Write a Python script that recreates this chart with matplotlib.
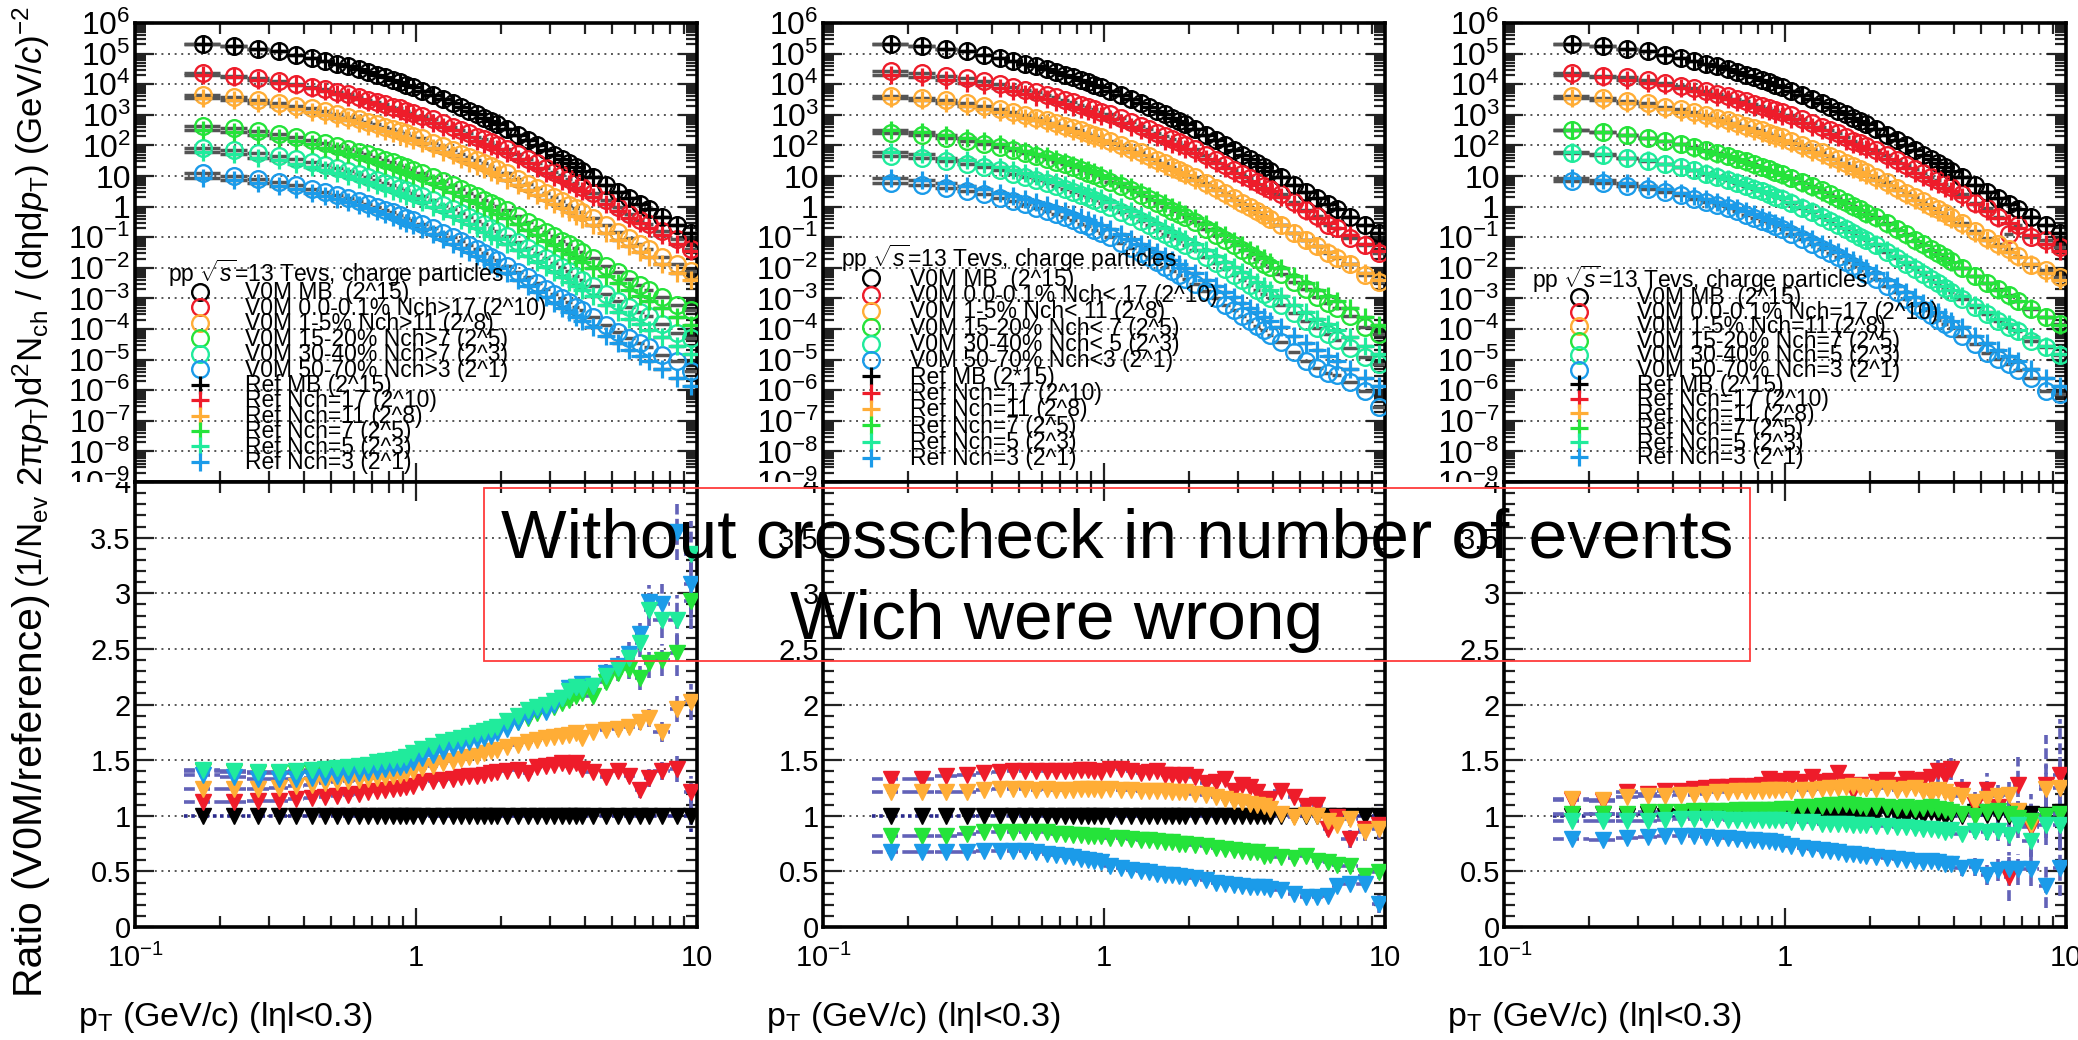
import numpy as np
import matplotlib.pyplot as plt
from matplotlib.ticker import FixedLocator, FixedFormatter, NullFormatter, LogLocator
from matplotlib.lines import Line2D
from matplotlib.patches import Rectangle
from matplotlib.transforms import Bbox, TransformedBbox

plt.rcParams['font.family'] = ['Liberation Sans', 'DejaVu Sans']
plt.rcParams['mathtext.fontset'] = 'custom'
plt.rcParams['mathtext.rm'] = 'Liberation Sans'
plt.rcParams['mathtext.it'] = 'Liberation Sans:italic'
plt.rcParams['mathtext.bf'] = 'Liberation Sans:bold'

# pT binning (GeV/c)
pt_edges = [0.15, 0.2, 0.25, 0.3, 0.35, 0.4, 0.45, 0.5, 0.55, 0.6, 0.65, 0.7, 0.75, 0.8,
            0.85, 0.9, 0.95, 1.0, 1.1, 1.2, 1.3, 1.4, 1.5, 1.6, 1.7, 1.8, 1.9, 2.0, 2.2,
            2.4, 2.6, 2.8, 3.0, 3.2, 3.4, 3.6, 3.8, 4.0, 4.5, 5.0, 5.5, 6.0, 6.5, 7.0,
            8.0, 9.0, 10.0]

# reference spectra, log10 of the scaled yield (same in all three panels)
ref_mb = [5.33, 5.26, 5.16, 5.07, 4.97, 4.87, 4.77, 4.67, 4.58, 4.49,
          4.40, 4.31, 4.22, 4.14, 4.06, 3.98, 3.90, 3.79, 3.65, 3.51,
          3.38, 3.25, 3.13, 3.01, 2.90, 2.79, 2.69, 2.54, 2.35, 2.17,
          2.00, 1.84, 1.69, 1.55, 1.42, 1.29, 1.17, 0.97, 0.71, 0.48,
          0.27, 0.08, -0.09, -0.33, -0.61, -0.86]
ref_n17 = [4.30, 4.23, 4.14, 4.05, 3.96, 3.86, 3.77, 3.67, 3.59, 3.51,
           3.42, 3.34, 3.26, 3.18, 3.11, 3.04, 2.96, 2.86, 2.74, 2.61,
           2.49, 2.38, 2.27, 2.16, 2.06, 1.97, 1.88, 1.74, 1.57, 1.41,
           1.25, 1.11, 0.97, 0.85, 0.73, 0.61, 0.50, 0.31, 0.07, -0.15,
           -0.36, -0.54, -0.71, -0.94, -1.21, -1.46]
ref_n11 = [3.55, 3.48, 3.39, 3.30, 3.20, 3.10, 3.00, 2.91, 2.82, 2.74,
           2.65, 2.56, 2.48, 2.40, 2.32, 2.25, 2.17, 2.07, 1.93, 1.80,
           1.68, 1.55, 1.44, 1.33, 1.22, 1.12, 1.03, 0.88, 0.70, 0.53,
           0.37, 0.22, 0.08, -0.05, -0.18, -0.30, -0.42, -0.61, -0.86, -1.09,
           -1.29, -1.48, -1.65, -1.88, -2.16, -2.41]
ref_n7 = [2.50, 2.43, 2.33, 2.23, 2.13, 2.03, 1.93, 1.83, 1.73, 1.64,
          1.55, 1.46, 1.36, 1.28, 1.20, 1.12, 1.03, 0.92, 0.77, 0.63,
          0.49, 0.36, 0.23, 0.11, -0.01, -0.12, -0.23, -0.38, -0.58, -0.77,
          -0.94, -1.11, -1.26, -1.41, -1.54, -1.68, -1.80, -2.01, -2.27, -2.51,
          -2.72, -2.91, -3.08, -3.33, -3.61, -3.86]
ref_n5 = [1.78, 1.71, 1.60, 1.51, 1.40, 1.30, 1.20, 1.09, 0.99, 0.90,
          0.80, 0.70, 0.61, 0.52, 0.44, 0.35, 0.27, 0.14, -0.01, -0.16,
          -0.30, -0.44, -0.58, -0.71, -0.83, -0.95, -1.06, -1.23, -1.43, -1.63,
          -1.81, -1.99, -2.15, -2.30, -2.45, -2.59, -2.72, -2.93, -3.20, -3.44,
          -3.66, -3.85, -4.02, -4.27, -4.56, -4.81]
ref_n3 = [0.95, 0.87, 0.77, 0.67, 0.57, 0.46, 0.35, 0.24, 0.14, 0.04,
          -0.05, -0.16, -0.25, -0.35, -0.43, -0.52, -0.61, -0.74, -0.90, -1.06,
          -1.21, -1.35, -1.49, -1.63, -1.76, -1.89, -2.00, -2.18, -2.39, -2.59,
          -2.79, -2.97, -3.14, -3.30, -3.45, -3.60, -3.73, -3.95, -4.23, -4.47,
          -4.69, -4.88, -5.06, -5.32, -5.61, -5.86]

# V0M spectra, log10, left panel
v0m_l_c1 = [4.35, 4.28, 4.19, 4.10, 4.02, 3.92, 3.84, 3.74, 3.67, 3.59,
            3.50, 3.43, 3.35, 3.27, 3.21, 3.14, 3.06, 2.97, 2.86, 2.73,
            2.61, 2.51, 2.40, 2.29, 2.20, 2.11, 2.02, 1.89, 1.72, 1.55,
            1.41, 1.27, 1.13, 1.02, 0.89, 0.78, 0.65, 0.45, 0.20, 0.00,
            -0.23, -0.45, -0.58, -0.79, -1.06, -1.38]
v0m_l_c2 = [3.64, 3.57, 3.48, 3.40, 3.30, 3.21, 3.11, 3.02, 2.94, 2.86,
            2.77, 2.69, 2.61, 2.53, 2.46, 2.39, 2.32, 2.23, 2.09, 1.97,
            1.85, 1.73, 1.62, 1.52, 1.41, 1.32, 1.23, 1.09, 0.91, 0.75,
            0.60, 0.45, 0.31, 0.19, 0.06, -0.06, -0.19, -0.37, -0.61, -0.84,
            -1.03, -1.22, -1.38, -1.64, -1.87, -2.10]
v0m_l_c3 = [2.65, 2.57, 2.47, 2.37, 2.27, 2.17, 2.08, 1.98, 1.88, 1.80,
            1.71, 1.62, 1.52, 1.45, 1.37, 1.30, 1.21, 1.11, 0.97, 0.84,
            0.70, 0.58, 0.46, 0.34, 0.23, 0.12, 0.02, -0.12, -0.32, -0.50,
            -0.66, -0.82, -0.96, -1.11, -1.23, -1.36, -1.48, -1.69, -1.93, -2.15,
            -2.35, -2.56, -2.71, -2.95, -3.22, -3.39]
v0m_l_c4 = [1.93, 1.86, 1.74, 1.65, 1.55, 1.45, 1.35, 1.25, 1.15, 1.06,
            0.96, 0.87, 0.78, 0.70, 0.62, 0.53, 0.46, 0.34, 0.20, 0.06,
            -0.07, -0.21, -0.34, -0.47, -0.58, -0.70, -0.80, -0.96, -1.15, -1.34,
            -1.51, -1.69, -1.84, -1.99, -2.12, -2.26, -2.39, -2.59, -2.85, -3.07,
            -3.28, -3.44, -3.57, -3.83, -4.12, -4.28]
v0m_l_c5 = [1.09, 1.00, 0.89, 0.79, 0.69, 0.59, 0.48, 0.37, 0.28, 0.18,
            0.09, -0.01, -0.10, -0.19, -0.27, -0.36, -0.44, -0.56, -0.71, -0.86,
            -1.00, -1.14, -1.27, -1.40, -1.53, -1.65, -1.76, -1.93, -2.13, -2.31,
            -2.50, -2.68, -2.84, -2.99, -3.12, -3.27, -3.39, -3.61, -3.87, -4.10,
            -4.30, -4.46, -4.59, -4.86, -5.06, -5.37]

# V0M spectra, log10, middle panel
v0m_m_c1 = [4.42, 4.35, 4.27, 4.19, 4.10, 4.00, 3.92, 3.82, 3.74, 3.66,
            3.57, 3.49, 3.41, 3.33, 3.26, 3.19, 3.10, 3.01, 2.89, 2.76,
            2.63, 2.52, 2.42, 2.30, 2.20, 2.10, 2.02, 1.87, 1.68, 1.52,
            1.37, 1.20, 1.08, 0.95, 0.81, 0.67, 0.56, 0.40, 0.14, -0.11,
            -0.32, -0.60, -0.71, -1.04, -1.27, -1.50]
v0m_m_c2 = [3.63, 3.56, 3.47, 3.38, 3.29, 3.19, 3.09, 3.00, 2.91, 2.83,
            2.74, 2.65, 2.57, 2.49, 2.41, 2.34, 2.26, 2.16, 2.02, 1.89,
            1.77, 1.64, 1.53, 1.42, 1.30, 1.20, 1.11, 0.96, 0.78, 0.60,
            0.43, 0.27, 0.13, 0.00, -0.14, -0.26, -0.39, -0.60, -0.86, -1.09,
            -1.29, -1.50, -1.69, -1.89, -2.23, -2.47]
v0m_m_c3 = [2.41, 2.34, 2.24, 2.15, 2.06, 1.96, 1.86, 1.76, 1.66, 1.57,
            1.47, 1.38, 1.28, 1.20, 1.11, 1.03, 0.94, 0.82, 0.67, 0.53,
            0.38, 0.25, 0.12, -0.01, -0.13, -0.24, -0.35, -0.51, -0.72, -0.92,
            -1.09, -1.27, -1.43, -1.58, -1.71, -1.87, -1.99, -2.21, -2.48, -2.70,
            -2.95, -3.15, -3.33, -3.59, -3.95, -4.17]
v0m_m_c4 = [1.66, 1.59, 1.48, 1.39, 1.28, 1.18, 1.08, 0.97, 0.87, 0.77,
            0.67, 0.57, 0.48, 0.38, 0.30, 0.21, 0.12, -0.01, -0.17, -0.32,
            -0.47, -0.61, -0.76, -0.89, -1.02, -1.14, -1.26, -1.43, -1.64, -1.85,
            -2.04, -2.23, -2.40, -2.55, -2.71, -2.86, -2.99, -3.21, -3.49, -3.74,
            -3.97, -4.17, -4.35, -4.61, -4.90, -5.16]
v0m_m_c5 = [0.78, 0.70, 0.60, 0.50, 0.40, 0.29, 0.18, 0.07, -0.03, -0.14,
            -0.24, -0.35, -0.45, -0.56, -0.65, -0.75, -0.85, -1.00, -1.18, -1.35,
            -1.51, -1.66, -1.81, -1.96, -2.09, -2.23, -2.35, -2.54, -2.77, -2.99,
            -3.20, -3.39, -3.57, -3.74, -3.89, -4.04, -4.20, -4.43, -4.75, -5.04,
            -5.26, -5.43, -5.49, -5.73, -6.02, -6.54]

# V0M spectra, log10, right panel
v0m_r_c1 = [4.36, 4.28, 4.22, 4.13, 4.05, 3.95, 3.86, 3.77, 3.69, 3.61,
            3.52, 3.44, 3.36, 3.29, 3.23, 3.15, 3.08, 2.98, 2.85, 2.74,
            2.60, 2.50, 2.41, 2.27, 2.15, 2.08, 1.98, 1.85, 1.69, 1.52,
            1.37, 1.23, 1.09, 0.98, 0.88, 0.74, 0.65, 0.40, 0.11, -0.06,
            -0.33, -0.89, -0.60, -0.99, -1.10, -1.32]
v0m_r_c2 = [3.61, 3.54, 3.46, 3.37, 3.27, 3.18, 3.08, 2.99, 2.90, 2.82,
            2.74, 2.65, 2.57, 2.49, 2.41, 2.34, 2.26, 2.16, 2.02, 1.89,
            1.77, 1.65, 1.54, 1.43, 1.32, 1.22, 1.13, 0.97, 0.80, 0.62,
            0.46, 0.32, 0.17, 0.03, -0.09, -0.22, -0.34, -0.54, -0.81, -1.03,
            -1.22, -1.40, -1.63, -1.92, -2.07, -2.31]
v0m_r_c3 = [2.51, 2.44, 2.34, 2.24, 2.14, 2.04, 1.95, 1.85, 1.75, 1.66,
            1.57, 1.48, 1.38, 1.30, 1.22, 1.14, 1.06, 0.95, 0.80, 0.66,
            0.53, 0.40, 0.27, 0.16, 0.03, -0.08, -0.20, -0.34, -0.55, -0.74,
            -0.91, -1.08, -1.23, -1.38, -1.51, -1.66, -1.79, -2.00, -2.27, -2.50,
            -2.70, -2.90, -3.09, -3.35, -3.61, -3.85]
v0m_r_c4 = [1.76, 1.69, 1.58, 1.49, 1.38, 1.29, 1.19, 1.08, 0.98, 0.88,
            0.78, 0.68, 0.59, 0.50, 0.42, 0.33, 0.25, 0.11, -0.04, -0.19,
            -0.33, -0.47, -0.61, -0.74, -0.87, -0.99, -1.10, -1.27, -1.47, -1.68,
            -1.86, -2.04, -2.21, -2.36, -2.51, -2.66, -2.78, -3.01, -3.27, -3.51,
            -3.73, -3.93, -4.06, -4.38, -4.60, -4.85]
v0m_r_c5 = [0.85, 0.76, 0.67, 0.58, 0.48, 0.37, 0.26, 0.15, 0.04, -0.06,
            -0.15, -0.27, -0.36, -0.46, -0.54, -0.64, -0.73, -0.88, -1.05, -1.21,
            -1.37, -1.52, -1.66, -1.81, -1.94, -2.08, -2.19, -2.38, -2.60, -2.80,
            -3.01, -3.20, -3.38, -3.53, -3.69, -3.84, -3.97, -4.23, -4.50, -4.80,
            -4.98, -5.16, -5.34, -5.60, -6.04, -6.14]

# ratios V0M / reference
ratio_l_mb = [1, 1, 1, 1, 1, 1, 1, 1, 1, 1, 1, 1, 1, 1, 1, 1, 1, 1, 1, 1, 1, 1, 1,
              1, 1, 1, 1, 1, 1, 1, 1, 1, 1, 1, 1, 1, 1, 1, 1, 1, 1, 1, 1, 1, 1, 1]
ratio_l_c1 = [1.12, 1.12, 1.13, 1.13, 1.15, 1.16, 1.17, 1.18, 1.19, 1.20,
              1.21, 1.22, 1.23, 1.24, 1.25, 1.26, 1.27, 1.30, 1.31, 1.32,
              1.33, 1.35, 1.36, 1.36, 1.37, 1.38, 1.39, 1.40, 1.41, 1.38,
              1.44, 1.45, 1.46, 1.47, 1.45, 1.47, 1.42, 1.39, 1.35, 1.40,
              1.36, 1.23, 1.34, 1.40, 1.42, 1.21]
ratio_l_c2 = [1.24, 1.24, 1.24, 1.25, 1.27, 1.28, 1.29, 1.30, 1.31, 1.32,
              1.33, 1.34, 1.35, 1.36, 1.37, 1.38, 1.40, 1.43, 1.45, 1.47,
              1.49, 1.51, 1.53, 1.54, 1.56, 1.58, 1.59, 1.62, 1.64, 1.66,
              1.68, 1.70, 1.71, 1.72, 1.73, 1.74, 1.70, 1.75, 1.77, 1.78,
              1.80, 1.84, 1.88, 1.75, 1.96, 2.02]
ratio_l_c3 = [1.40, 1.39, 1.38, 1.38, 1.38, 1.39, 1.40, 1.41, 1.42, 1.43,
              1.44, 1.45, 1.46, 1.47, 1.48, 1.50, 1.52, 1.55, 1.58, 1.61,
              1.64, 1.66, 1.68, 1.70, 1.72, 1.74, 1.76, 1.80, 1.84, 1.88,
              1.92, 1.95, 1.98, 2.01, 2.04, 2.08, 2.10, 2.08, 2.20, 2.28,
              2.32, 2.24, 2.37, 2.40, 2.46, 2.93]
ratio_l_c4 = [1.41, 1.40, 1.39, 1.39, 1.40, 1.41, 1.42, 1.43, 1.44, 1.45,
              1.46, 1.48, 1.49, 1.50, 1.51, 1.53, 1.56, 1.60, 1.63, 1.66,
              1.68, 1.70, 1.72, 1.74, 1.76, 1.78, 1.80, 1.85, 1.90, 1.95,
              1.98, 2.00, 2.03, 2.06, 2.12, 2.16, 2.14, 2.17, 2.26, 2.33,
              2.42, 2.55, 2.85, 2.76, 2.76, 3.35]
ratio_l_c5 = [1.37, 1.35, 1.33, 1.33, 1.33, 1.34, 1.35, 1.36, 1.37, 1.38,
              1.39, 1.40, 1.42, 1.43, 1.44, 1.46, 1.48, 1.52, 1.55, 1.58,
              1.61, 1.64, 1.66, 1.68, 1.70, 1.72, 1.74, 1.78, 1.84, 1.90,
              1.95, 1.93, 2.00, 2.06, 2.15, 2.16, 2.18, 2.17, 2.28, 2.35,
              2.45, 2.63, 2.92, 2.90, 3.55, 3.08]

ratio_m_mb = [1, 1, 1, 1, 1, 1, 1, 1, 1, 1, 1, 1, 1, 1, 1, 1, 1, 1, 1, 1, 1, 1, 1,
              1, 1, 1, 1, 1, 1, 1, 1, 1, 1, 1, 1, 1, 1, 1, 1, 1, 1, 1, 1, 1, 1, 1]
ratio_m_c1 = [1.33, 1.33, 1.36, 1.37, 1.38, 1.39, 1.40, 1.40, 1.40, 1.40,
              1.40, 1.40, 1.40, 1.41, 1.41, 1.40, 1.39, 1.42, 1.42, 1.40,
              1.38, 1.39, 1.40, 1.37, 1.37, 1.36, 1.37, 1.35, 1.29, 1.30,
              1.33, 1.22, 1.28, 1.26, 1.21, 1.14, 1.15, 1.22, 1.17, 1.09,
              1.10, 0.88, 0.99, 0.79, 0.88, 0.92]
ratio_m_c2 = [1.21, 1.21, 1.21, 1.21, 1.23, 1.24, 1.24, 1.24, 1.23, 1.24,
              1.23, 1.23, 1.23, 1.24, 1.24, 1.24, 1.23, 1.24, 1.23, 1.23,
              1.22, 1.22, 1.22, 1.22, 1.21, 1.21, 1.21, 1.20, 1.19, 1.17,
              1.15, 1.13, 1.12, 1.11, 1.10, 1.09, 1.06, 1.02, 0.99, 1.01,
              1.00, 0.95, 0.92, 0.97, 0.85, 0.88]
ratio_m_c3 = [0.82, 0.82, 0.82, 0.84, 0.85, 0.85, 0.85, 0.85, 0.85, 0.85,
              0.84, 0.84, 0.83, 0.83, 0.82, 0.82, 0.82, 0.80, 0.80, 0.79,
              0.78, 0.78, 0.77, 0.76, 0.76, 0.75, 0.75, 0.74, 0.73, 0.71,
              0.70, 0.69, 0.68, 0.67, 0.67, 0.64, 0.65, 0.63, 0.62, 0.64,
              0.59, 0.58, 0.56, 0.55, 0.46, 0.49]
ratio_m_c5 = [0.67, 0.67, 0.67, 0.67, 0.68, 0.68, 0.68, 0.68, 0.67, 0.66,
              0.65, 0.64, 0.63, 0.61, 0.60, 0.59, 0.58, 0.55, 0.53, 0.51,
              0.50, 0.49, 0.48, 0.47, 0.47, 0.46, 0.45, 0.44, 0.42, 0.40,
              0.39, 0.38, 0.37, 0.36, 0.36, 0.36, 0.34, 0.33, 0.30, 0.27,
              0.27, 0.28, 0.37, 0.39, 0.39, 0.21]

ratio_r_mb = [1.00, 1.02, 1.00, 1.02, 1.00, 0.99, 1.01, 1.02, 0.99, 1.01,
              1.02, 0.99, 1.00, 1.02, 0.99, 1.01, 1.02, 1.00, 1.02, 0.99,
              1.01, 1.03, 0.99, 1.02, 1.00, 1.02, 0.99, 1.01, 1.03, 1.00,
              0.99, 1.02, 1.00, 1.03, 1.01, 0.99, 1.02, 1.00, 1.03, 1.01,
              1.02, 1.00, 1.03, 1.02, 1.01, 1.03]
ratio_r_c1 = [1.14, 1.13, 1.21, 1.20, 1.22, 1.22, 1.24, 1.25, 1.26, 1.26,
              1.27, 1.26, 1.27, 1.28, 1.33, 1.30, 1.31, 1.33, 1.30, 1.35,
              1.30, 1.31, 1.38, 1.30, 1.22, 1.28, 1.25, 1.30, 1.32, 1.28,
              1.33, 1.31, 1.32, 1.35, 1.40, 1.36, 1.42, 1.23, 1.10, 1.23,
              1.08, 0.45, 1.28, 0.90, 1.28, 1.37]
ratio_r_c2 = [1.15, 1.14, 1.17, 1.18, 1.18, 1.19, 1.19, 1.20, 1.21, 1.21,
              1.22, 1.22, 1.22, 1.22, 1.23, 1.23, 1.23, 1.22, 1.23, 1.23,
              1.24, 1.25, 1.25, 1.26, 1.27, 1.26, 1.25, 1.24, 1.25, 1.23,
              1.24, 1.25, 1.22, 1.20, 1.23, 1.21, 1.19, 1.18, 1.12, 1.15,
              1.18, 1.19, 1.04, 0.92, 1.24, 1.25]
ratio_r_c3 = [1.02, 1.02, 1.02, 1.03, 1.03, 1.03, 1.04, 1.04, 1.04, 1.04,
              1.05, 1.05, 1.05, 1.05, 1.05, 1.05, 1.06, 1.06, 1.08, 1.08,
              1.09, 1.10, 1.10, 1.11, 1.10, 1.09, 1.08, 1.09, 1.08, 1.07,
              1.08, 1.06, 1.07, 1.08, 1.06, 1.05, 1.03, 1.02, 1.00, 1.03,
              1.04, 1.02, 0.98, 0.95, 1.00, 1.02]
ratio_r_c4 = [0.95, 0.95, 0.95, 0.95, 0.96, 0.97, 0.97, 0.97, 0.97, 0.96,
              0.96, 0.96, 0.96, 0.96, 0.96, 0.96, 0.96, 0.94, 0.94, 0.94,
              0.93, 0.93, 0.93, 0.93, 0.92, 0.92, 0.92, 0.91, 0.91, 0.90,
              0.90, 0.89, 0.88, 0.88, 0.87, 0.85, 0.87, 0.84, 0.86, 0.85,
              0.86, 0.83, 0.92, 0.77, 0.92, 0.92]
ratio_r_c5 = [0.79, 0.78, 0.80, 0.81, 0.82, 0.82, 0.82, 0.81, 0.80, 0.80,
              0.79, 0.78, 0.78, 0.77, 0.77, 0.76, 0.75, 0.73, 0.71, 0.70,
              0.69, 0.68, 0.67, 0.66, 0.66, 0.65, 0.64, 0.63, 0.62, 0.61,
              0.60, 0.59, 0.58, 0.59, 0.58, 0.57, 0.57, 0.53, 0.54, 0.47,
              0.51, 0.52, 0.52, 0.52, 0.37, 0.53]

# ratio errors for the last 12 bins (3.4-10 GeV/c); lower bins are negligible
err_l_mb = [0, 0, 0, 0, 0.01, 0.01, 0.01, 0.02, 0.02, 0.02, 0.03, 0.15]
err_l_c1 = [0.02, 0.02, 0.03, 0.03, 0.04, 0.05, 0.06, 0.07, 0.08, 0.08, 0.12, 0.15]
err_l_c2 = [0.02, 0.02, 0.03, 0.03, 0.04, 0.05, 0.06, 0.07, 0.08, 0.09, 0.12, 0.16]
err_l_c3 = [0.03, 0.03, 0.04, 0.05, 0.06, 0.07, 0.09, 0.11, 0.13, 0.14, 0.20, 0.25]
err_l_c4 = [0.03, 0.04, 0.05, 0.05, 0.07, 0.08, 0.10, 0.12, 0.14, 0.16, 0.22, 0.30]
err_l_c5 = [0.04, 0.04, 0.05, 0.06, 0.08, 0.09, 0.11, 0.13, 0.15, 0.18, 0.25, 0.30]
err_m_mb = [0, 0, 0, 0, 0, 0.01, 0.01, 0.01, 0.02, 0.02, 0.04, 0.10]
err_m_c1 = [0.02, 0.02, 0.03, 0.03, 0.04, 0.04, 0.05, 0.06, 0.07, 0.08, 0.10, 0.12]
err_m_c2 = [0.01, 0.02, 0.02, 0.02, 0.03, 0.03, 0.04, 0.05, 0.05, 0.06, 0.08, 0.10]
err_m_c3 = [0.01, 0.01, 0.01, 0.02, 0.02, 0.02, 0.03, 0.03, 0.04, 0.04, 0.05, 0.06]
err_m_c5 = [0.01, 0.01, 0.01, 0.01, 0.02, 0.02, 0.02, 0.02, 0.03, 0.03, 0.04, 0.08]
err_r_mb = [0.01, 0.02, 0.02, 0.02, 0.03, 0.03, 0.04, 0.05, 0.06, 0.07, 0.10, 0.12]
err_r_c1 = [0.10, 0.12, 0.10, 0.10, 0.12, 0.15, 0.20, 0.22, 0.25, 0.30, 0.45, 0.50]
err_r_c2 = [0.05, 0.05, 0.06, 0.06, 0.07, 0.08, 0.10, 0.12, 0.14, 0.16, 0.22, 0.28]
err_r_c3 = [0.04, 0.05, 0.05, 0.06, 0.07, 0.08, 0.10, 0.12, 0.14, 0.16, 0.20, 0.25]
err_r_c4 = [0.04, 0.04, 0.05, 0.05, 0.06, 0.07, 0.09, 0.10, 0.12, 0.14, 0.18, 0.22]
err_r_c5 = [0.05, 0.05, 0.06, 0.07, 0.08, 0.09, 0.10, 0.12, 0.14, 0.15, 0.20, 0.25]

ref_labels = ['Ref MB (2^15)', 'Ref Nch=17 (2^10)', 'Ref Nch=11 (2^8)',
              'Ref Nch=7 (2^5)', 'Ref Nch=5 (2^3)', 'Ref Nch=3 (2^1)']
labels_left = ['V0M MB  (2^15)', 'V0M 0.0-0.1% Nch>17 (2^10)', 'V0M 1-5% Nch>11 (2^8)',
               'V0M 15-20% Nch>7 (2^5)', 'V0M 30-40% Nch>7 (2^3)',
               'V0M 50-70% Nch>3 (2^1)'] + ref_labels
labels_mid = ['V0M MB  (2^15)', 'V0M 0.0-0.1% Nch< 17 (2^10)', 'V0M 1-5% Nch< 11 (2^8)',
              'V0M 15-20% Nch< 7 (2^5)', 'V0M 30-40% Nch< 5 (2^3)',
              'V0M 50-70% Nch<3 (2^1)', 'Ref MB (2*15)'] + ref_labels[1:]
labels_right = ['V0M MB  (2^15)', 'V0M 0.0-0.1% Nch=17 (2^10)', 'V0M 1-5% Nch=11 (2^8)',
                'V0M 15-20% Nch=7 (2^5)', 'V0M 30-40% Nch=5 (2^3)',
                'V0M 50-70% Nch=3 (2^1)'] + ref_labels

colors = ['#000000', '#ee1c2a', '#ffad36', '#25e33a', '#20eb9c', '#1b9be9']
refs = [ref_mb, ref_n17, ref_n11, ref_n7, ref_n5, ref_n3]

panels = [
    dict(x0=135, v0m=[ref_mb, v0m_l_c1, v0m_l_c2, v0m_l_c3, v0m_l_c4, v0m_l_c5],
         ratio=[ratio_l_mb, ratio_l_c1, ratio_l_c2, ratio_l_c3, ratio_l_c4, ratio_l_c5],
         err=[err_l_mb, err_l_c1, err_l_c2, err_l_c3, err_l_c4, err_l_c5],
         labels=labels_left, leg=(0.059, 0.489, 2.79, 0.57, -0.33)),
    dict(x0=823, v0m=[ref_mb, v0m_m_c1, v0m_m_c2, v0m_m_c3, v0m_m_c4, v0m_m_c5],
         ratio=[ratio_m_mb, ratio_m_c1, ratio_m_c2, ratio_m_c3, None, ratio_m_c5],
         err=[err_m_mb, err_m_c1, err_m_c2, err_m_c3, None, err_m_c5],
         labels=labels_mid, leg=(0.032, 0.521, 2.62, 0.39, -0.29)),
    dict(x0=1504, v0m=[ref_mb, v0m_r_c1, v0m_r_c2, v0m_r_c3, v0m_r_c4, v0m_r_c5],
         ratio=[ratio_r_mb, ratio_r_c1, ratio_r_c2, ratio_r_c3, ratio_r_c4, ratio_r_c5],
         err=[err_r_mb, err_r_c1, err_r_c2, err_r_c3, err_r_c4, err_r_c5],
         labels=labels_right, leg=(0.050, 0.476, 4.10, 0.48, -0.37)),
]

edges = np.array(pt_edges)
pt = (edges[:-1] + edges[1:]) / 2
half = np.diff(edges) / 2

W, H = 2078.0, 1040.0
panel_w = 562
y_top, y_split, y_bot = 23, 482, 927

fig = plt.figure(figsize=(W / 100, H / 100), dpi=100)

minor_x = [0.2, 0.3, 0.4, 0.5, 0.6, 0.7, 0.8, 0.9, 2, 3, 4, 5, 6, 7, 8, 9]
dec_ticks = [10.0 ** k for k in range(-9, 7)]
dec_labels = ['1' if k == 0 else ('10' if k == 1 else '$10^{%d}$' % k) for k in range(-9, 7)]
clip_above = TransformedBbox(Bbox.from_extents(0, 1 - y_split / H, 1, 1), fig.transFigure)
clip_below = TransformedBbox(Bbox.from_extents(0, 0, 1, 1 - y_split / H), fig.transFigure)
grid_kw = dict(ls=(0, (1, 2.4)), lw=1.4, color='#555555')


def frame(ax):
    ax.set_xscale('log')
    ax.set_xlim(0.1, 10)
    for s in ax.spines.values():
        s.set_linewidth(2.6)
    ax.xaxis.set_major_locator(FixedLocator([0.1, 1, 10]))
    ax.xaxis.set_minor_locator(FixedLocator(minor_x))
    ax.xaxis.set_minor_formatter(NullFormatter())
    ax.tick_params(which='both', direction='in', top=True, right=True, width=1.6, color='#222222')
    ax.tick_params(which='major', length=14)
    ax.tick_params(which='minor', length=8)
    ax.set_axisbelow(True)


for p in panels:
    x0 = p['x0']
    axt = fig.add_axes([x0 / W, 1 - y_split / H, panel_w / W, (y_split - y_top) / H])
    axb = fig.add_axes([x0 / W, 1 - y_bot / H, panel_w / W, (y_bot - y_split) / H])

    # spectra
    frame(axt)
    axt.set_yscale('log')
    axt.set_ylim(1e-9, 1e6)
    axt.yaxis.set_major_locator(FixedLocator(dec_ticks))
    axt.yaxis.set_major_formatter(FixedFormatter(dec_labels))
    axt.yaxis.set_minor_locator(LogLocator(base=10, subs=np.arange(2, 10), numticks=200))
    axt.yaxis.set_minor_formatter(NullFormatter())
    axt.tick_params(axis='y', labelsize=23, pad=3)
    axt.tick_params(axis='x', labelbottom=False)
    axt.grid(True, axis='y', which='major', **grid_kw)
    for t in axt.yaxis.get_major_ticks():
        t.label1.set_clip_box(clip_above)

    for k in range(6):
        axt.errorbar(pt, 10.0 ** np.array(p['v0m'][k]), xerr=half, fmt='o', ms=12, mfc='none',
                     mec=colors[k], mew=1.7, ecolor='#555555', elinewidth=2.5, capsize=0, zorder=3)
        axt.errorbar(pt, 10.0 ** np.array(refs[k]), xerr=half, fmt='+', ms=13,
                     mec=colors[k], mew=2.3, ecolor='#555555', elinewidth=2.5, capsize=0, zorder=4)

    handles = [Line2D([], [], ls='none', marker='o', ms=12, mfc='none', mec=c, mew=1.7) for c in colors]
    handles += [Line2D([], [], ls='none', marker='+', ms=13, mec=c, mew=2.3) for c in colors]
    fx, fy, hl, htp, lsp = p['leg']
    axt.legend(handles, p['labels'], loc='upper left', bbox_to_anchor=(fx, fy), frameon=False,
               fontsize=16.5, title=r'pp $\sqrt{s}$=13 Tevs, charge particles', title_fontsize=16.5,
               alignment='left', borderpad=0, borderaxespad=0, handlelength=hl,
               handletextpad=htp, labelspacing=lsp, handleheight=0.5)

    # ratios
    frame(axb)
    axb.set_ylim(0, 4)
    axb.yaxis.set_major_locator(FixedLocator([0, 0.5, 1, 1.5, 2, 2.5, 3, 3.5, 4]))
    axb.yaxis.set_major_formatter(FixedFormatter(['0', '0.5', '1', '1.5', '2', '2.5', '3', '3.5', '4']))
    axb.yaxis.set_minor_locator(FixedLocator(np.arange(0, 4.01, 0.1)))
    axb.set_xticklabels(['$10^{-1}$', '1', '10'])
    axb.tick_params(axis='y', labelsize=21, pad=3)
    axb.tick_params(axis='x', labelsize=21, pad=12)
    axb.grid(True, axis='y', which='major', **grid_kw)
    for t in axb.yaxis.get_major_ticks():
        t.label1.set_clip_box(clip_below)

    for k in [0, 1, 2, 3, 5, 4]:
        if p['ratio'][k] is None:
            continue
        err = np.concatenate([np.zeros(34), p['err'][k]])
        ec = '#2a2a8c' if k == 0 else '#6262b8'
        eb = axb.errorbar(pt, p['ratio'][k], xerr=half, yerr=err, fmt='v', ms=11,
                          mfc=colors[k], mec=colors[k], ecolor=ec, elinewidth=2.6,
                          capsize=0, zorder=3)
        for lc in eb[2]:
            lc.set_linestyle((0, (1, 1)) if k == 0 else (0, (3, 1.2)))

    fig.text((x0 - 57) / W, 14 / H, r'p$_{\mathrm{T}}$ (GeV/c) (l$\mathrm{\eta}$l<0.3)', fontsize=24.5,
             ha='left', va='baseline')

# y titles of the ratio pad and of the spectra pad, stacked along the left edge
fig.text(31 / W, 43 / H, 'Ratio (V0M/reference)', rotation=90, ha='center', va='bottom',
         fontsize=29.5)
fig.text(31 / W, 1 - 6 / H,
         r'(1/N$_{\mathrm{ev}}$ 2$\mathrm{\pi}\mathit{p}_{\mathrm{T}}$)d$^{2}$N$_{\mathrm{ch}}$'
         r' / (d$\mathrm{\eta}$d$\mathit{p}_{\mathrm{T}}$) (GeV/$\mathit{c}$)$^{-2}$',
         rotation=90, ha='center', va='top', fontsize=25)

# overlay note
fig.add_artist(Rectangle((484 / W, 1 - 661 / H), 1266 / W, 173 / H, transform=fig.transFigure,
                         fill=False, edgecolor='#ff3b3b', lw=1.3, zorder=20))
fig.text(1117 / W, 1 - 558 / H, 'Without crosscheck in number of events', fontsize=50,
         ha='center', va='baseline', zorder=21)
fig.text(1057 / W, 1 - 639 / H, 'Wich were wrong', fontsize=50, ha='center', va='baseline', zorder=21)

fig.savefig('out.png', dpi=100)
